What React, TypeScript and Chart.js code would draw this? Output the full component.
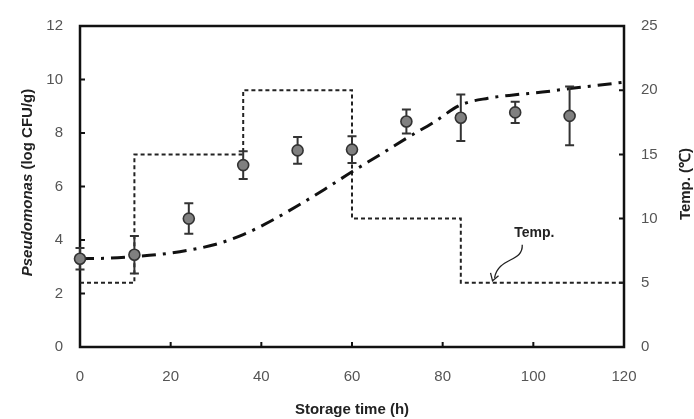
import React, { useEffect, useRef } from "react";
import { Chart, registerables } from "chart.js";

Chart.register(...registerables);

// Observed Pseudomonas counts (log CFU/g)
const obsTimes = [0, 12, 24, 36, 48, 60, 72, 84, 96, 108];
const obsLogCount = [3.3, 3.45, 4.8, 6.8, 7.35, 7.38, 8.43, 8.57, 8.77, 8.64];
const obsError = [0.4, 0.7, 0.57, 0.52, 0.5, 0.5, 0.45, 0.87, 0.4, 1.1];

// Predicted growth curve
const fitTimes = [0, 6, 12, 18, 24, 30, 36, 42, 48, 54, 60, 66, 72, 78, 84, 90, 96, 102, 108, 114, 120];
const fitLogCount = [3.3, 3.32, 3.38, 3.47, 3.62, 3.84, 4.2, 4.7, 5.28, 5.9, 6.55, 7.17, 7.8, 8.4, 9.05, 9.3, 9.43, 9.53, 9.66, 9.78, 9.9];

// Storage temperature profile (°C)
const tempTimes = [0, 12, 12, 36, 36, 60, 60, 84, 84, 120];
const tempValues = [5, 5, 15, 15, 20, 20, 10, 10, 5, 5];

// Axis ranges / ticks
const xMin = 0, xMax = 120, xStep = 20;
const yMin = 0, yMax = 12, yStep = 2;
const y2Min = 0, y2Max = 25, y2Step = 5;

// Texts
const xTitle = "Storage time (h)";
const yTitleItalic = "Pseudomonas";
const yTitleRest = " (log CFU/g)";
const y2Title = "Temp. (\u2103)";
const tempLabel = "Temp.";
const tempLabelPos = { x: 100.2, y: 8.9 };
const tempArrowTip = { x: 91, y: 5.15 };

const FONT = "'Liberation Sans', Arial, sans-serif";

const decorPlugin = {
  id: "decor",
  beforeDatasetsDraw(chart: any) {
    const ctx = chart.ctx;
    const { left, right, top, bottom } = chart.chartArea;
    const xs = chart.scales.x, ys = chart.scales.y, y2 = chart.scales.y2;
    ctx.save();
    ctx.strokeStyle = "#111";
    ctx.lineWidth = 2.5;
    ctx.strokeRect(left, top, right - left, bottom - top);
    ctx.lineWidth = 2;
    ctx.beginPath();
    for (let v = xMin + xStep; v < xMax; v += xStep) {
      const px = xs.getPixelForValue(v);
      ctx.moveTo(px, bottom);
      ctx.lineTo(px, bottom - 5);
    }
    for (let v = yMin + yStep; v < yMax; v += yStep) {
      const py = ys.getPixelForValue(v);
      ctx.moveTo(left, py);
      ctx.lineTo(left + 5, py);
    }
    for (let v = y2Min + y2Step; v < y2Max; v += y2Step) {
      const py = y2.getPixelForValue(v);
      ctx.moveTo(right, py);
      ctx.lineTo(right - 5, py);
    }
    ctx.stroke();
    ctx.restore();
  },
  beforeDatasetDraw(chart: any, args: any) {
    if (args.index !== 0) return;
    const ctx = chart.ctx;
    const xs = chart.scales.x, ys = chart.scales.y;
    ctx.save();
    ctx.strokeStyle = "#333";
    ctx.lineWidth = 2;
    obsTimes.forEach((t, i) => {
      const px = xs.getPixelForValue(t);
      const pt = ys.getPixelForValue(obsLogCount[i] + obsError[i]);
      const pb = ys.getPixelForValue(obsLogCount[i] - obsError[i]);
      ctx.beginPath();
      ctx.moveTo(px, pt);
      ctx.lineTo(px, pb);
      ctx.moveTo(px - 4.5, pt);
      ctx.lineTo(px + 4.5, pt);
      ctx.moveTo(px - 4.5, pb);
      ctx.lineTo(px + 4.5, pb);
      ctx.stroke();
    });
    ctx.restore();
  },
  afterDraw(chart: any) {
    const ctx = chart.ctx;
    const { top, bottom } = chart.chartArea;
    const xs = chart.scales.x, y2 = chart.scales.y2;
    const midY = (top + bottom) / 2 - 4;
    ctx.save();
    ctx.fillStyle = "#222";
    ctx.textBaseline = "middle";
    // x title
    ctx.font = `bold 15px ${FONT}`;
    ctx.textAlign = "center";
    ctx.fillText(xTitle, (chart.chartArea.left + chart.chartArea.right) / 2, 410);
    // left title (mixed italic)
    ctx.save();
    ctx.translate(28, midY);
    ctx.rotate(-Math.PI / 2);
    ctx.font = `italic bold 15px ${FONT}`;
    const w1 = ctx.measureText(yTitleItalic).width;
    ctx.font = `bold 15px ${FONT}`;
    const w2 = ctx.measureText(yTitleRest).width;
    const start = -(w1 + w2) / 2;
    ctx.textAlign = "left";
    ctx.font = `italic bold 15px ${FONT}`;
    ctx.fillText(yTitleItalic, start, 0);
    ctx.font = `bold 15px ${FONT}`;
    ctx.fillText(yTitleRest, start + w1, 0);
    ctx.restore();
    // right title
    ctx.save();
    ctx.translate(686, 184);
    ctx.rotate(-Math.PI / 2);
    ctx.textAlign = "center";
    ctx.font = `bold 15px ${FONT}`;
    ctx.fillText(y2Title, 0, 0);
    ctx.restore();
    // Temp annotation
    const tx = xs.getPixelForValue(tempLabelPos.x);
    const ty = y2.getPixelForValue(tempLabelPos.y);
    ctx.font = `bold 14px ${FONT}`;
    ctx.textAlign = "center";
    ctx.fillText(tempLabel, tx, ty);
    const ax = xs.getPixelForValue(tempArrowTip.x);
    const ay = y2.getPixelForValue(tempArrowTip.y);
    ctx.strokeStyle = "#222";
    ctx.lineWidth = 1.3;
    ctx.beginPath();
    ctx.moveTo(tx - 12, ty + 12);
    ctx.bezierCurveTo(tx - 11, ty + 30, tx - 36, ty + 24, ax + 2, ay - 3);
    ctx.stroke();
    ctx.beginPath();
    ctx.moveTo(ax - 2, ay - 8);
    ctx.lineTo(ax, ay);
    ctx.lineTo(ax + 6, ay - 5);
    ctx.stroke();
    ctx.restore();
  },
};

export default function App() {
  const ref = useRef<HTMLCanvasElement | null>(null);
  useEffect(() => {
    if (!ref.current) return;
    const chart = new Chart(ref.current, {
      type: "scatter",
      data: {
        datasets: [
          {
            label: "Observed",
            data: obsTimes.map((t, i) => ({ x: t, y: obsLogCount[i] })),
            yAxisID: "y",
            pointRadius: 5.5,
            pointBackgroundColor: "#808080",
            pointBorderColor: "#333",
            pointBorderWidth: 1.6,
            showLine: false,
            clip: false,
          } as any,
          {
            label: "Predicted",
            data: fitTimes.map((t, i) => ({ x: t, y: fitLogCount[i] })),
            yAxisID: "y",
            showLine: true,
            pointRadius: 0,
            borderColor: "#111",
            borderWidth: 3,
            borderDash: [14, 7, 3, 7],
            cubicInterpolationMode: "monotone",
            clip: false,
          } as any,
          {
            label: "Temp",
            data: tempTimes.map((t, i) => ({ x: t, y: tempValues[i] })),
            yAxisID: "y2",
            showLine: true,
            pointRadius: 0,
            borderColor: "#222",
            borderWidth: 2,
            borderDash: [4, 3],
            tension: 0,
            clip: false,
          } as any,
        ],
      },
      options: {
        animation: false,
        responsive: false,
        devicePixelRatio: 1,
        layout: { padding: { top: 19, left: 0, right: 0, bottom: 0 } },
        plugins: { legend: { display: false }, tooltip: { enabled: false } },
        scales: {
          x: {
            type: "linear",
            min: xMin,
            max: xMax,
            grid: { display: false, drawTicks: false },
            border: { display: false },
            ticks: { stepSize: xStep, padding: 21, color: "#555", font: { family: FONT, size: 15 } },
            afterFit: (s: any) => { s.height = 72; },
          },
          y: {
            position: "left",
            min: yMin,
            max: yMax,
            grid: { display: false, drawTicks: false },
            border: { display: false },
            ticks: { stepSize: yStep, padding: 17, color: "#555", font: { family: FONT, size: 15 } },
            afterFit: (s: any) => { s.width = 80; },
          },
          y2: {
            position: "right",
            min: y2Min,
            max: y2Max,
            grid: { display: false, drawTicks: false },
            border: { display: false },
            ticks: { stepSize: y2Step, padding: 17, color: "#555", font: { family: FONT, size: 15 } },
            afterFit: (s: any) => { s.width = 70; },
          },
        },
      } as any,
      plugins: [decorPlugin],
    });
    return () => chart.destroy();
  }, []);
  return (
    <div style={{ position: "absolute", left: 0, top: 0, width: 694, height: 419, background: "#fff" }}>
      <canvas ref={ref} width={694} height={419} style={{ display: "block" }} />
    </div>
  );
}
